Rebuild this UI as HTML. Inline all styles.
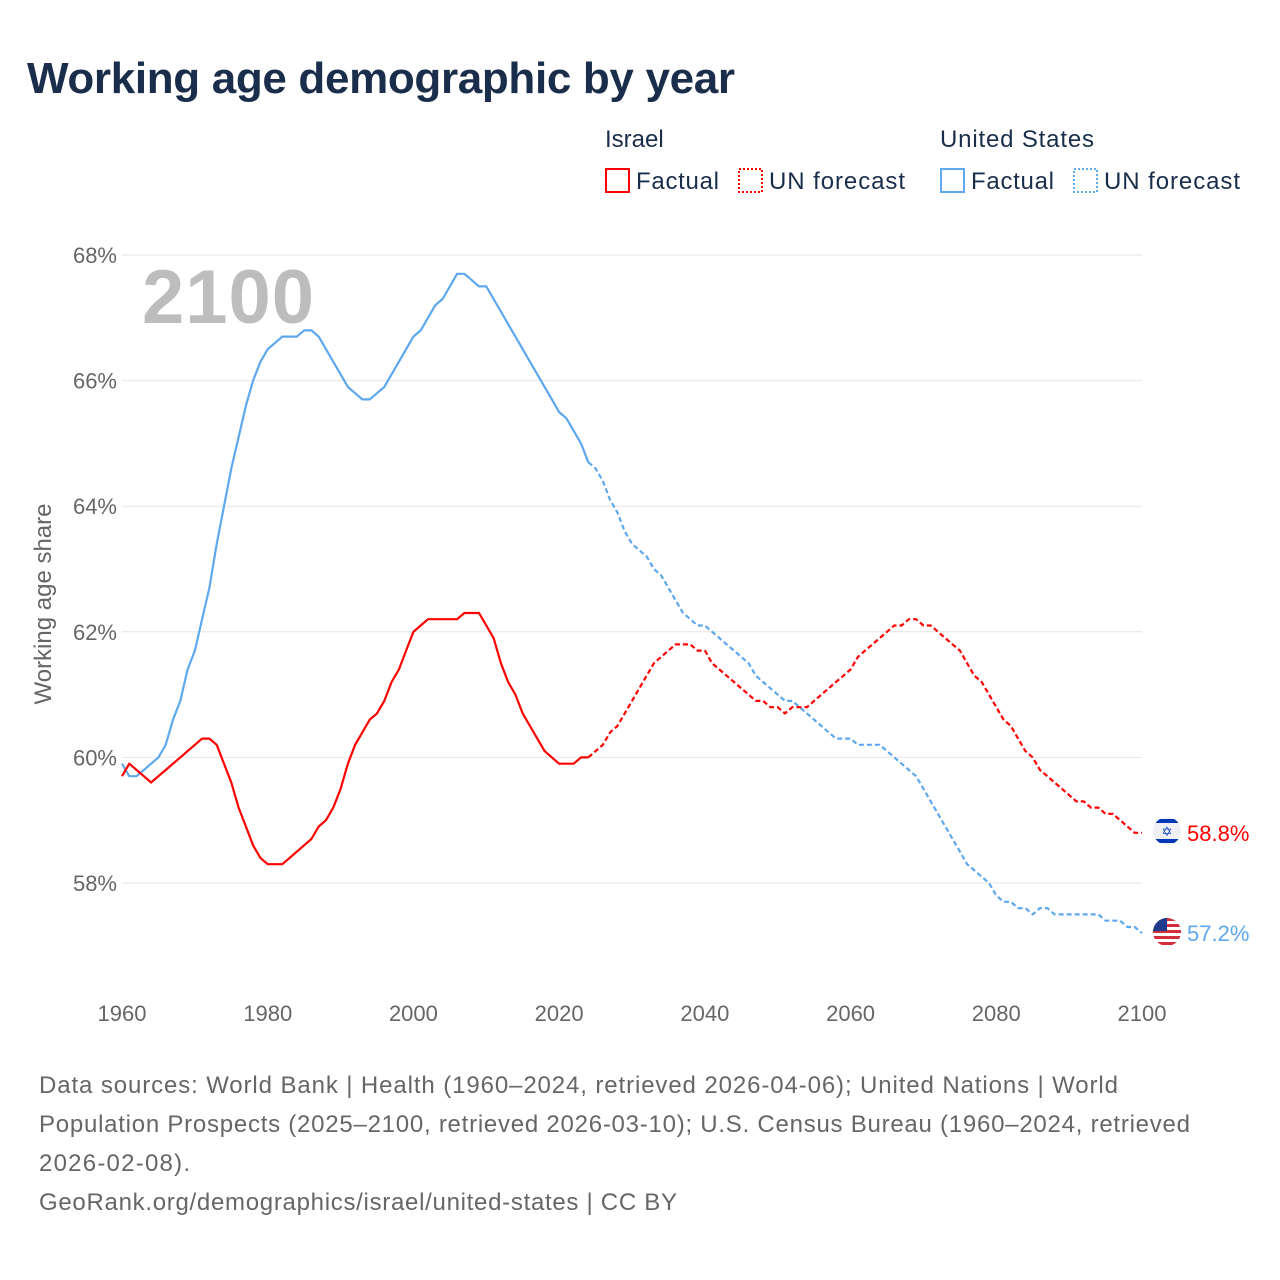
<!DOCTYPE html>
<html><head><meta charset="utf-8"><style>
body{margin:0;background:#fff;}
svg{display:block;font-family:"Liberation Sans",sans-serif;}
</style></head><body>
<svg id="chart" width="1280" height="1280" viewBox="0 0 1280 1280">
<defs>
<clipPath id="cIL"><circle cx="1167" cy="831" r="14"/></clipPath>
<clipPath id="cUS"><circle cx="1167" cy="932" r="14"/></clipPath>
</defs>
<text x="27" y="93" font-size="44" font-weight="bold" fill="#1a2e4b" textLength="708">Working age demographic by year</text>
<g>
<text x="605" y="147" font-size="24" fill="#1a2e4b">Israel</text>
<rect x="606" y="169" width="23" height="23" fill="none" stroke="#ff0000" stroke-width="2"/>
<text x="636" y="189" font-size="24" fill="#1a2e4b" textLength="83">Factual</text>
<rect x="739" y="169" width="23" height="23" fill="none" stroke="#ff0000" stroke-width="2" stroke-dasharray="2,2"/>
<text x="769" y="189" font-size="24" fill="#1a2e4b" textLength="136">UN forecast</text>
<text x="940" y="147" font-size="24" fill="#1a2e4b" textLength="154">United States</text>
<rect x="941" y="169" width="23" height="23" fill="none" stroke="#5ea8ed" stroke-width="2"/>
<text x="971" y="189" font-size="24" fill="#1a2e4b" textLength="83">Factual</text>
<rect x="1074" y="169" width="23" height="23" fill="none" stroke="#5ea8ed" stroke-width="2" stroke-dasharray="2,2"/>
<text x="1104" y="189" font-size="24" fill="#1a2e4b" textLength="136">UN forecast</text>
</g>
<text x="142" y="323" font-size="76" font-weight="bold" fill="#bdbdbd" textLength="172">2100</text>
<text transform="translate(51,604) rotate(-90)" text-anchor="middle" font-size="24" fill="#666">Working age share</text>
<g id="grid"></g><g id="lines"></g>
<g font-size="24" fill="#666">
<text x="39" y="1093" textLength="1079">Data sources: World Bank | Health (1960–2024, retrieved 2026-04-06); United Nations | World</text>
<text x="39" y="1132" textLength="1151">Population Prospects (2025–2100, retrieved 2026-03-10); U.S. Census Bureau (1960–2024, retrieved</text>
<text x="39" y="1171" textLength="151">2026-02-08).</text>
<text x="39" y="1210" textLength="638">GeoRank.org/demographics/israel/united-states | CC BY</text>
</g>
</svg>
<script>
const yTicks=[58,60,62,64,66,68];
const xTicks=[1960,1980,2000,2020,2040,2060,2080,2100];
const usFactual=[59.9,59.7,59.7,59.8,59.9,60.0,60.2,60.6,60.9,61.4,61.7,62.2,62.7,63.4,64.0,64.6,65.1,65.6,66.0,66.3,66.5,66.6,66.7,66.7,66.7,66.8,66.8,66.7,66.5,66.3,66.1,65.9,65.8,65.7,65.7,65.8,65.9,66.1,66.3,66.5,66.7,66.8,67.0,67.2,67.3,67.5,67.7,67.7,67.6,67.5,67.5,67.3,67.1,66.9,66.7,66.5,66.3,66.1,65.9,65.7,65.5,65.4,65.2,65.0,64.7];
const usForecast=[64.7,64.6,64.4,64.1,63.9,63.6,63.4,63.3,63.2,63.0,62.9,62.7,62.5,62.3,62.2,62.1,62.1,62.0,61.9,61.8,61.7,61.6,61.5,61.3,61.2,61.1,61.0,60.9,60.9,60.8,60.7,60.6,60.5,60.4,60.3,60.3,60.3,60.2,60.2,60.2,60.2,60.1,60.0,59.9,59.8,59.7,59.5,59.3,59.1,58.9,58.7,58.5,58.3,58.2,58.1,58.0,57.8,57.7,57.7,57.6,57.6,57.5,57.6,57.6,57.5,57.5,57.5,57.5,57.5,57.5,57.5,57.4,57.4,57.4,57.3,57.3,57.2];
const ilFactual=[59.7,59.9,59.8,59.7,59.6,59.7,59.8,59.9,60.0,60.1,60.2,60.3,60.3,60.2,59.9,59.6,59.2,58.9,58.6,58.4,58.3,58.3,58.3,58.4,58.5,58.6,58.7,58.9,59.0,59.2,59.5,59.9,60.2,60.4,60.6,60.7,60.9,61.2,61.4,61.7,62.0,62.1,62.2,62.2,62.2,62.2,62.2,62.3,62.3,62.3,62.1,61.9,61.5,61.2,61.0,60.7,60.5,60.3,60.1,60.0,59.9,59.9,59.9,60.0,60.0];
const ilForecast=[60.0,60.1,60.2,60.4,60.5,60.7,60.9,61.1,61.3,61.5,61.6,61.7,61.8,61.8,61.8,61.7,61.7,61.5,61.4,61.3,61.2,61.1,61.0,60.9,60.9,60.8,60.8,60.7,60.8,60.8,60.8,60.9,61.0,61.1,61.2,61.3,61.4,61.6,61.7,61.8,61.9,62.0,62.1,62.1,62.2,62.2,62.1,62.1,62.0,61.9,61.8,61.7,61.5,61.3,61.2,61.0,60.8,60.6,60.5,60.3,60.1,60.0,59.8,59.7,59.6,59.5,59.4,59.3,59.3,59.2,59.2,59.1,59.1,59.0,58.9,58.8,58.8];
const factualStart=1960, forecastStart=2024;
const NS="http://www.w3.org/2000/svg";
const X=yr=>122+(yr-1960)*(1020/140);
const Y=v=>255+(68-v)*62.8;
const grid=document.getElementById('grid'), lines=document.getElementById('lines');
function mk(tag,attrs,parent){const e=document.createElementNS(NS,tag);for(const k in attrs)e.setAttribute(k,attrs[k]);parent.appendChild(e);return e;}
yTicks.forEach(t=>{
  const l=mk('line',{x1:122,x2:1142,y1:Y(t),y2:Y(t),stroke:'#e6e6e6','stroke-width':1},grid);
  
  
  const tx=mk('text',{x:117,y:Y(t)+8,'text-anchor':'end','font-size':22,fill:'#666'},grid);
  tx.textContent=t+'%';
  
  
});
xTicks.forEach(t=>{
  const tx=mk('text',{x:X(t),y:1021,'text-anchor':'middle','font-size':22,fill:'#666'},grid);
  tx.textContent=t;
  
  
});
function line(arr,start,color,dash,name){
  const pts=arr.map((v,i)=>X(start+i).toFixed(1)+','+Y(v).toFixed(1)).join(' ');
  const p=mk('polyline',{points:pts,fill:'none',stroke:color,'stroke-width':2.2,'stroke-linejoin':'round'},lines);
  if(dash)p.setAttribute('stroke-dasharray','5,3');
  
  
}
line(usFactual,factualStart,'#5ea8ed',false,'us-factual-line');
line(usForecast,forecastStart,'#5ea8ed',true,'us-forecast-line');
line(ilFactual,factualStart,'#ff0000',false,'israel-factual-line');
line(ilForecast,forecastStart,'#ff0000',true,'israel-forecast-line');
const ilEnd=ilForecast[ilForecast.length-1], usEnd=usForecast[usForecast.length-1];
const gi=mk('g',{'clip-path':'url(#cIL)'},lines);


mk('rect',{x:1150,y:815,width:34,height:32,fill:'#eef0f3'},gi);
mk('rect',{x:1150,y:819,width:34,height:4,fill:'#0038b8'},gi);
mk('rect',{x:1150,y:839,width:34,height:4,fill:'#0038b8'},gi);
const st=mk('text',{x:1167,y:836,'text-anchor':'middle','font-size':13,fill:'#0038b8'},gi);st.textContent='✡';
const gu=mk('g',{'clip-path':'url(#cUS)'},lines);


mk('rect',{x:1150,y:915,width:34,height:34,fill:'#fff'},gu);
for(let i=0;i<5;i++)mk('rect',{x:1150,y:918+i*6,width:34,height:3,fill:'#d22f3c'},gu);
mk('rect',{x:1150,y:915,width:17,height:16,fill:'#1f3a8a'},gu);
const il=mk('text',{x:1187,y:Y(ilEnd)+8,'font-size':22,fill:'#ff0000'},lines);
il.textContent=ilEnd.toFixed(1)+'%';


const ul=mk('text',{x:1187,y:Y(usEnd)+8,'font-size':22,fill:'#5ea8ed'},lines);
ul.textContent=usEnd.toFixed(1)+'%';


</script>
</body></html>
